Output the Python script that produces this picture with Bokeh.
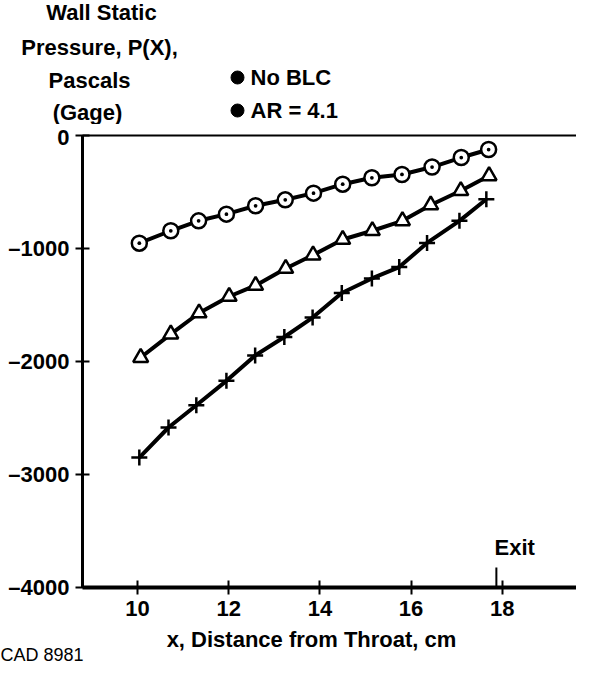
from bokeh.plotting import figure
from bokeh.models import FixedTicker, Range1d, LinearAxis
from bokeh.layouts import column
from bokeh.core.properties import value
from bokeh.embed import file_html
from bokeh.resources import INLINE

# ---- data ----
x_circ = [10.04, 10.73, 11.34, 11.95, 12.59, 13.24, 13.86, 14.50, 15.14, 15.80, 16.46, 17.10, 17.70]
p_circ = [-953, -843, -755, -696, -622, -569, -510, -431, -374, -345, -279, -195, -124]

x_tri = [10.07, 10.73, 11.35, 12.01, 12.59, 13.25, 13.85, 14.50, 15.15, 15.81, 16.43, 17.09, 17.71]
p_tri = [-1965, -1758, -1571, -1425, -1327, -1177, -1058, -920, -843, -755, -615, -489, -357]

x_cross = [10.04, 10.68, 11.29, 11.95, 12.58, 13.22, 13.84, 14.48, 15.14, 15.74, 16.35, 17.06, 17.65]
p_cross = [-2850, -2584, -2387, -2171, -1947, -1783, -1611, -1394, -1265, -1164, -951, -755, -564]

x_ticks = [10, 12, 14, 16, 18]
y_ticks = [0, -1000, -2000, -3000, -4000]
y_tick_labels = ["0", "\u20131000", "\u20132000", "\u20133000", "\u20134000"]
exit_x = 17.87

title_lines = ["Wall Static", "Pressure, P(X),", "Pascals", "(Gage)"]
legend_labels = ["No BLC", "AR = 4.1"]
x_title = "x, Distance from Throat, cm"
footnote = "CAD 8981"

FONT = "Liberation Sans"
W = 576
# page-pixel layout (page = figure + 8 margin)
TOP_H = 124            # page 8 .. 132
MAIN_TOP = 11          # page 132 .. 143
FRAME_T, FRAME_B = 143, 595
FRAME_L, FRAME_R = 90, 584
MAIN_BOT = 36          # page 595 .. 631
BOT_H = 665 - TOP_H - (MAIN_TOP + (FRAME_B - FRAME_T) + MAIN_BOT)

PX_PER_X = 45.6
X10_PX = 145
X0 = 10 + (FRAME_L - X10_PX) / PX_PER_X
X1 = 10 + (FRAME_R - X10_PX) / PX_PER_X
Y0, Y1 = -4000, 0


def dx(ix):
    return 10 + (ix - X10_PX) / PX_PER_X


def dy(iy):
    return Y1 + (iy - FRAME_T) / (FRAME_B - FRAME_T) * (Y0 - Y1)


def text_fig(height, top_px):
    f = figure(width=W, height=height, x_range=Range1d(8, 8 + W),
               y_range=Range1d(top_px + height, top_px),
               x_axis_type=None, y_axis_type=None, output_backend="svg",
               toolbar_location=None, min_border=0, frame_align=False)
    f.outline_line_color = None
    f.grid.visible = False
    return f


def put(f, txt, x, y, align="left", size="22px", style="bold"):
    f.text(x=[x], y=[y], text=[txt], text_align=align, text_baseline="middle",
           text_font=value(FONT), text_font_style=style,
           text_font_size=size, text_color="black")


# ---- top block: axis title and legend ----
top = text_fig(TOP_H, 8)
for txt, cx, cy in zip(title_lines, [109, 107, 97, 95], [20, 55, 88, 120]):
    put(top, txt, cx, cy, align="center")
legend_y = [85, 118]
top.scatter(x=[245] * len(legend_labels), y=legend_y, marker="circle",
            size=13, fill_color="black", line_color="black")
for txt, cy in zip(legend_labels, legend_y):
    put(top, txt, 258, cy)

# ---- main plot ----
main_h = MAIN_TOP + (FRAME_B - FRAME_T) + MAIN_BOT
p = figure(width=W, height=main_h, x_range=(X0, X1), y_range=(Y0, Y1),
           output_backend="svg", toolbar_location=None,
           min_border_left=FRAME_L - 8, min_border_right=W - (FRAME_R - 8),
           min_border_top=MAIN_TOP, min_border_bottom=MAIN_BOT,
           frame_align=False)
p.outline_line_color = None
p.grid.visible = False

# thin top frame line at P = 0 (no ticks, no labels)
top_axis = LinearAxis(ticker=FixedTicker(ticks=[]), axis_line_width=2,
                      axis_line_color="black", major_tick_line_color=None,
                      minor_tick_line_color=None)
p.add_layout(top_axis, "above")

bottom_axis = p.below[0]
left_axis = p.left[0]
bottom_axis.ticker = FixedTicker(ticks=x_ticks)
left_axis.ticker = FixedTicker(ticks=y_ticks)
left_axis.major_label_overrides = {t: l for t, l in zip(y_ticks, y_tick_labels)}
for ax in (bottom_axis, left_axis):
    ax.axis_line_color = "black"
    ax.major_tick_line_color = "black"
    ax.major_tick_line_width = 2
    ax.minor_tick_line_color = None
    ax.major_tick_in = 7
    ax.major_tick_out = 7
    ax.major_label_text_font = FONT
    ax.major_label_text_font_style = "bold"
    ax.major_label_text_font_size = "22px"
    ax.major_label_text_color = "black"
bottom_axis.axis_line_width = 4
left_axis.axis_line_width = 3
left_axis.major_label_standoff = 6
bottom_axis.major_label_standoff = 6

p.line(x_circ, p_circ, line_color="black", line_width=4)
p.line(x_tri, p_tri, line_color="black", line_width=4)
p.line(x_cross, p_cross, line_color="black", line_width=4)
p.scatter(x_circ, p_circ, marker="circle_dot", size=15, line_color="black",
          line_width=2.5, fill_color="white")
p.scatter(x_tri, p_tri, marker="triangle", size=15, line_color="black",
          line_width=2.5, fill_color="white")
p.scatter(x_cross, p_cross, marker="cross", size=16, line_color="black",
          line_width=2.5)

p.segment(x0=[exit_x], y0=[dy(575)], x1=[exit_x], y1=[Y0],
          line_color="black", line_width=2)
put(p, "Exit", dx(502), dy(555))

# ---- bottom block: x-axis title and footnote ----
bot_top = 8 + TOP_H + main_h
bot = text_fig(BOT_H, bot_top)
put(bot, x_title, 319, 647, align="center")
put(bot, footnote, 8, 662, size="18px", style="normal")

layout = column(top, p, bot, spacing=0)
open("out.html", "w").write(file_html(layout, INLINE))
